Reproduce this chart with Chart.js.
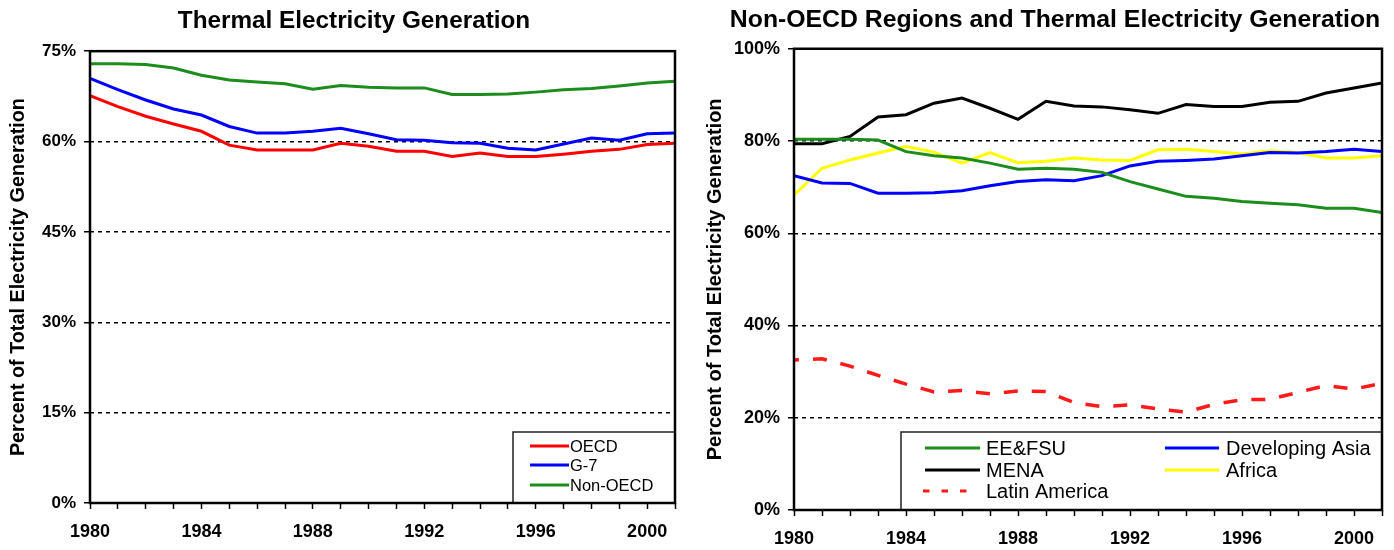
<!DOCTYPE html>
<html>
<head>
<meta charset="utf-8">
<script src="https://cdn.jsdelivr.net/npm/chart.js@4.4.1/dist/chart.umd.min.js"></script>
<style>
html,body{margin:0;padding:0;background:#fff;}
#wrap{position:relative;width:1394px;height:550px;overflow:hidden;background:#fff;}
#w1{position:absolute;left:0;top:0;width:700px;height:550px;}
#w2{position:absolute;left:700px;top:0;width:694px;height:550px;}
canvas{display:block;}
</style>
</head>
<body>
<div id="wrap">
  <div id="w1"><canvas id="c1" width="700" height="550"></canvas></div>
  <div id="w2"><canvas id="c2" width="694" height="550"></canvas></div>
</div>
<script>
// ---------- data ----------
const years = [1980,1981,1982,1983,1984,1985,1986,1987,1988,1989,1990,1991,1992,1993,1994,1995,1996,1997,1998,1999,2000,2001];
const xTickLabels = ['1980','1984','1988','1992','1996','2000'];
const leftYTicks = [0,15,30,45,60,75];
const rightYTicks = [0,20,40,60,80,100];

// Left chart: Thermal Electricity Generation (% of total)
const oecd     = [67.6,65.8,64.2,62.9,61.7,59.4,58.6,58.6,58.6,59.7,59.2,58.4,58.4,57.5,58.1,57.5,57.5,57.9,58.4,58.7,59.5,59.7];
const g7       = [70.5,68.6,66.9,65.4,64.4,62.5,61.4,61.4,61.7,62.2,61.3,60.3,60.2,59.8,59.7,58.9,58.6,59.6,60.6,60.2,61.3,61.4];
const nonOecd  = [72.9,72.9,72.8,72.2,71.0,70.2,69.9,69.6,68.7,69.3,69.0,68.9,68.9,67.8,67.8,67.9,68.2,68.6,68.8,69.2,69.7,70.0];

// Right chart: Non-OECD regions
const eefsu    = [80.4,80.4,80.4,80.2,77.7,76.8,76.3,75.2,73.9,74.1,73.9,73.2,71.2,69.6,68.0,67.6,66.9,66.5,66.2,65.4,65.4,64.5];
const devAsia  = [72.5,70.9,70.8,68.7,68.7,68.8,69.2,70.3,71.2,71.6,71.4,72.5,74.6,75.6,75.8,76.1,76.8,77.5,77.4,77.7,78.2,77.7];
const mena     = [79.4,79.4,81.0,85.2,85.7,88.2,89.3,87.1,84.7,88.6,87.6,87.4,86.8,86.0,87.9,87.5,87.5,88.4,88.6,90.4,91.5,92.6];
const africa   = [68.3,74.1,75.9,77.4,78.8,77.6,75.2,77.5,75.3,75.6,76.3,75.9,75.8,78.1,78.2,77.7,77.2,77.9,77.5,76.3,76.3,76.8];
const latAm    = [32.5,32.8,31.2,29.2,27.3,25.6,25.9,25.2,25.8,25.7,23.3,22.4,22.8,21.9,21.2,22.9,23.9,24.0,25.5,27.0,26.2,27.5];

// ---------- helpers ----------
const pts = vals => years.map((y, i) => ({x: y, y: vals[i]}));
const SANS = '"Liberation Sans", Arial, Helvetica, sans-serif';

const framePlugin = {
  id: 'frameLegend',
  afterDatasetsDraw(chart, args, opts) {
    const ctx = chart.ctx, a = chart.chartArea;
    ctx.save();
    const bx = a.right - opts.width, by = a.bottom - opts.height;
    ctx.setLineDash([]);
    ctx.fillStyle = '#fff';
    ctx.fillRect(bx, by, opts.width, opts.height);
    ctx.strokeStyle = '#222';
    ctx.lineWidth = 1.5;
    ctx.strokeRect(bx, by, opts.width, opts.height);
    ctx.font = opts.font;
    ctx.textBaseline = 'middle';
    ctx.textAlign = 'left';
    opts.items.forEach(it => {
      const ds = chart.data.datasets[it.ds];
      const y = by + it.y;
      ctx.strokeStyle = ds.borderColor;
      ctx.lineWidth = 3;
      ctx.setLineDash(it.dash || []);
      ctx.lineDashOffset = 0;
      ctx.beginPath();
      ctx.moveTo(bx + it.x, y);
      ctx.lineTo(bx + it.x + it.len, y);
      ctx.stroke();
      ctx.setLineDash([]);
      ctx.fillStyle = '#000';
      ctx.fillText(ds.label, bx + it.tx, y + 1);
    });
    ctx.strokeStyle = '#000';
    ctx.lineWidth = 2.5;
    ctx.strokeRect(a.left, a.top, a.right - a.left, a.bottom - a.top);
    ctx.restore();
  }
};

function makeOptions(cfg) {
  return {
    responsive: false,
    animation: false,
    layout: {padding: {left: cfg.padLeft, right: cfg.padRight, top: 0, bottom: 0}},
    plugins: {
      legend: {display: false},
      tooltip: {enabled: false},
      title: {
        display: true,
        text: cfg.title,
        color: '#000',
        font: {family: SANS, size: cfg.titleFont, weight: 'bold'},
        padding: {top: cfg.titleTop, bottom: cfg.titleBottom}
      },
      frameLegend: cfg.legend
    },
    scales: {
      x: {
        type: 'linear',
        min: 1980, max: 2001,
        afterBuildTicks: s => { s.ticks = years.map(v => ({value: v})); },
        afterFit: s => { s.height = cfg.xHeight; },
        grid: {display: true, drawOnChartArea: false, drawTicks: true, tickLength: 6, tickColor: '#000', tickWidth: 1.5},
        border: {display: false},
        ticks: {
          autoSkip: false, maxRotation: 0, minRotation: 0, padding: 12, color: '#000',
          font: {family: SANS, size: cfg.xFont, weight: 'bold'},
          callback: v => xTickLabels.indexOf(String(v)) >= 0 ? String(v) : ''
        }
      },
      y: {
        min: 0, max: cfg.yMax,
        afterBuildTicks: s => { s.ticks = cfg.yTicks.map(v => ({value: v})); },
        afterFit: s => { s.width = cfg.yWidth; },
        grid: {
          display: true, drawOnChartArea: true, drawTicks: true, tickLength: 6,
          tickColor: '#000', tickWidth: 1.5, lineWidth: 1.5,
          color: c => (c.tick && (c.tick.value === 0 || c.tick.value === cfg.yMax)) ? 'rgba(0,0,0,0)' : '#000'
        },
        border: {display: false, dash: [4, 4]},
        ticks: {
          padding: 8, color: '#000',
          font: {family: SANS, size: cfg.yFont, weight: 'bold'},
          callback: v => v + '%'
        },
        title: {
          display: true,
          text: 'Percent of Total Electricity Generation',
          color: '#000',
          font: {family: SANS, size: cfg.yTitleFont, weight: 'bold'},
          padding: {top: cfg.yTitlePad, bottom: 0}
        }
      }
    }
  };
}

const common = {pointRadius: 0, borderWidth: 3, tension: 0, fill: false};

new Chart(document.getElementById('c1'), {
  type: 'line',
  data: {
    datasets: [
      Object.assign({label: 'OECD', data: pts(oecd), borderColor: '#ff0000'}, common),
      Object.assign({label: 'G-7', data: pts(g7), borderColor: '#0000ff'}, common),
      Object.assign({label: 'Non-OECD', data: pts(nonOecd), borderColor: '#1c8c1c'}, common)
    ]
  },
  options: makeOptions({
    title: 'Thermal Electricity Generation', titleFont: 24.3,
    padLeft: 33, padRight: 25, titleTop: 7, titleBottom: 15,
    xHeight: 47, yWidth: 57, yMax: 75, yTicks: leftYTicks,
    xFont: 18, yFont: 17, yTitleFont: 19.8, yTitlePad: 19 - 11.9 - 33,
    legend: {
      width: 162, height: 71, font: '16.5px ' + SANS,
      items: [
        {ds: 0, x: 17, len: 39, tx: 57, y: 14},
        {ds: 1, x: 17, len: 39, tx: 57, y: 33},
        {ds: 2, x: 17, len: 39, tx: 57, y: 53}
      ]
    }
  }),
  plugins: [framePlugin]
});

new Chart(document.getElementById('c2'), {
  type: 'line',
  data: {
    datasets: [
      Object.assign({label: 'EE&FSU', data: pts(eefsu), borderColor: '#1c8c1c'}, common),
      Object.assign({label: 'Developing Asia', data: pts(devAsia), borderColor: '#0000ff'}, common),
      Object.assign({label: 'MENA', data: pts(mena), borderColor: '#000000'}, common),
      Object.assign({label: 'Africa', data: pts(africa), borderColor: '#ffff00'}, common),
      Object.assign({}, common, {label: 'Latin America', data: pts(latAm), borderColor: '#ff1a1a', borderWidth: 3.5, borderDash: [14, 14], borderDashOffset: 9, borderCapStyle: 'butt'})
    ]
  },
  options: makeOptions({
    title: 'Non-OECD Regions and Thermal Electricity Generation', titleFont: 24.8,
    padLeft: 27, padRight: 11, titleTop: 5, titleBottom: 14,
    xHeight: 40, yWidth: 67, yMax: 100, yTicks: rightYTicks,
    xFont: 18, yFont: 18, yTitleFont: 20, yTitlePad: 15 - 12 - 27,
    legend: {
      width: 481, height: 78, font: '20px ' + SANS,
      items: [
        {ds: 0, x: 24, len: 55, tx: 85, y: 16},
        {ds: 1, x: 264, len: 54, tx: 325, y: 16},
        {ds: 2, x: 24, len: 55, tx: 85, y: 38},
        {ds: 3, x: 264, len: 54, tx: 325, y: 38},
        {ds: 4, x: 22, len: 46, tx: 85, y: 59, dash: [6.5, 12]}
      ]
    }
  }),
  plugins: [framePlugin]
});
</script>
</body>
</html>
